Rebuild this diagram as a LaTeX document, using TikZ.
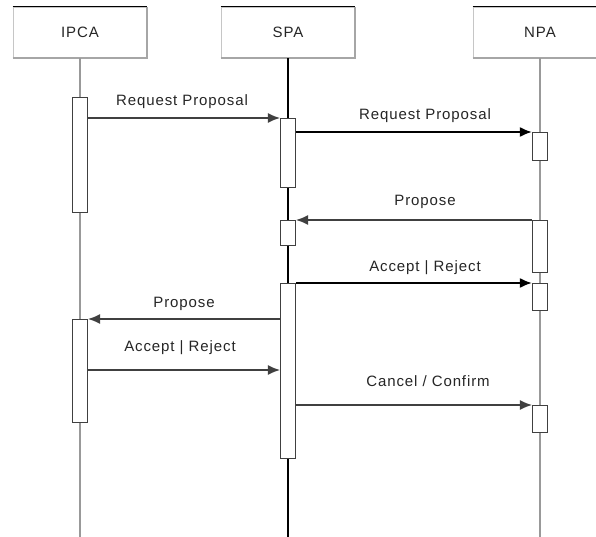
\documentclass[tikz,border=0pt]{standalone}
\usepackage{fontspec}
\setmainfont{Liberation Sans}[LetterSpace=6]
\usetikzlibrary{arrows.meta}
\tikzset{
  head/.style={draw=gray!45, fill=white, line width=0.8pt, minimum width=134pt, minimum height=51pt, inner sep=0pt, font=\fontsize{15}{18}\selectfont, text=black!85},
  act/.style={draw=black!75, fill=white, line width=1.1pt, minimum width=15pt, inner sep=0pt, anchor=north},
  life/.style={line width=2pt, draw=gray!80},
  lifeb/.style={line width=2pt, draw=black},
  msg/.style={line width=1.4pt, draw=black!75, -{Latex[length=12pt,width=10pt]}},
  msgb/.style={line width=2pt, draw=black, -{Latex[length=12pt,width=10pt]}},
  lbl/.style={anchor=base, yshift=12pt, inner sep=0pt, font=\fontsize{15}{18}\selectfont, text=black!85},
  shade/.style={line width=2pt, draw=gray!70}
}
\begin{document}
\begin{tikzpicture}[x=1pt, y=-1pt]
\clip (0,0) rectangle (596,537);
\fill[white] (0,0) rectangle (596,537);
\coordinate (bot) at (0,540);
% heads
\node[head] (ipca) at (80,32.5) {IPCA};
\node[head] (spa) at (288,32.5) {SPA};
\node[head] (npa) at (540,32.5) {NPA};
\foreach \h in {ipca,spa,npa}{
  \draw[black, line width=1.2pt] (\h.north west) -- (\h.north east);
  \draw[shade] (\h.south west) -- (\h.south east) -- (\h.north east);
}
% lifelines
\draw[life] (ipca.south) -- (ipca.south |- bot);
\draw[lifeb] (spa.south) -- (spa.south |- bot);
\draw[life, line width=1.5pt] (npa.south) -- (npa.south |- bot);
% activations
\node[act, minimum height=115pt] (i1) at (80,97) {};
\node[act, minimum height=103pt] (i2) at (80,319) {};
\node[act, minimum height=69pt] (s1) at (288,118) {};
\node[act, minimum height=25pt] (s2) at (288,220) {};
\node[act, minimum height=175pt] (s3) at (288,283) {};
\node[act, minimum height=28pt] (n1) at (540,132) {};
\node[act, minimum height=52pt] (n2) at (540,220) {};
\node[act, minimum height=27pt] (n3) at (540,283) {};
\node[act, minimum height=27pt] (n4) at (540,405) {};
\coordinate (ar2) at (0,370);
% messages
\draw[msg] (i1.east |- s1.north) -- node[lbl, xshift=-2pt]{Request Proposal} (s1.north west);
\draw[msgb] (s1.east |- n1.north) -- node[lbl, xshift=11pt]{Request Proposal} (n1.north west);
\draw[msg] (n2.north west) -- node[lbl, xshift=11pt, yshift=2pt]{Propose} (s2.north east);
\draw[msgb] (s3.north east) -- node[lbl, xshift=11pt]{Accept | Reject} (n3.north west);
\draw[msg] (s3.west |- i2.north) -- node[lbl]{Propose} (i2.north east);
\draw[msg] (i2.east |- ar2) -- node[lbl, xshift=-4pt, yshift=7pt]{Accept | Reject} (s3.west |- ar2);
\draw[msg] (s3.east |- n4.north) -- node[lbl, xshift=14pt, yshift=7pt]{Cancel / Confirm} (n4.north west);
\end{tikzpicture}
\end{document}
